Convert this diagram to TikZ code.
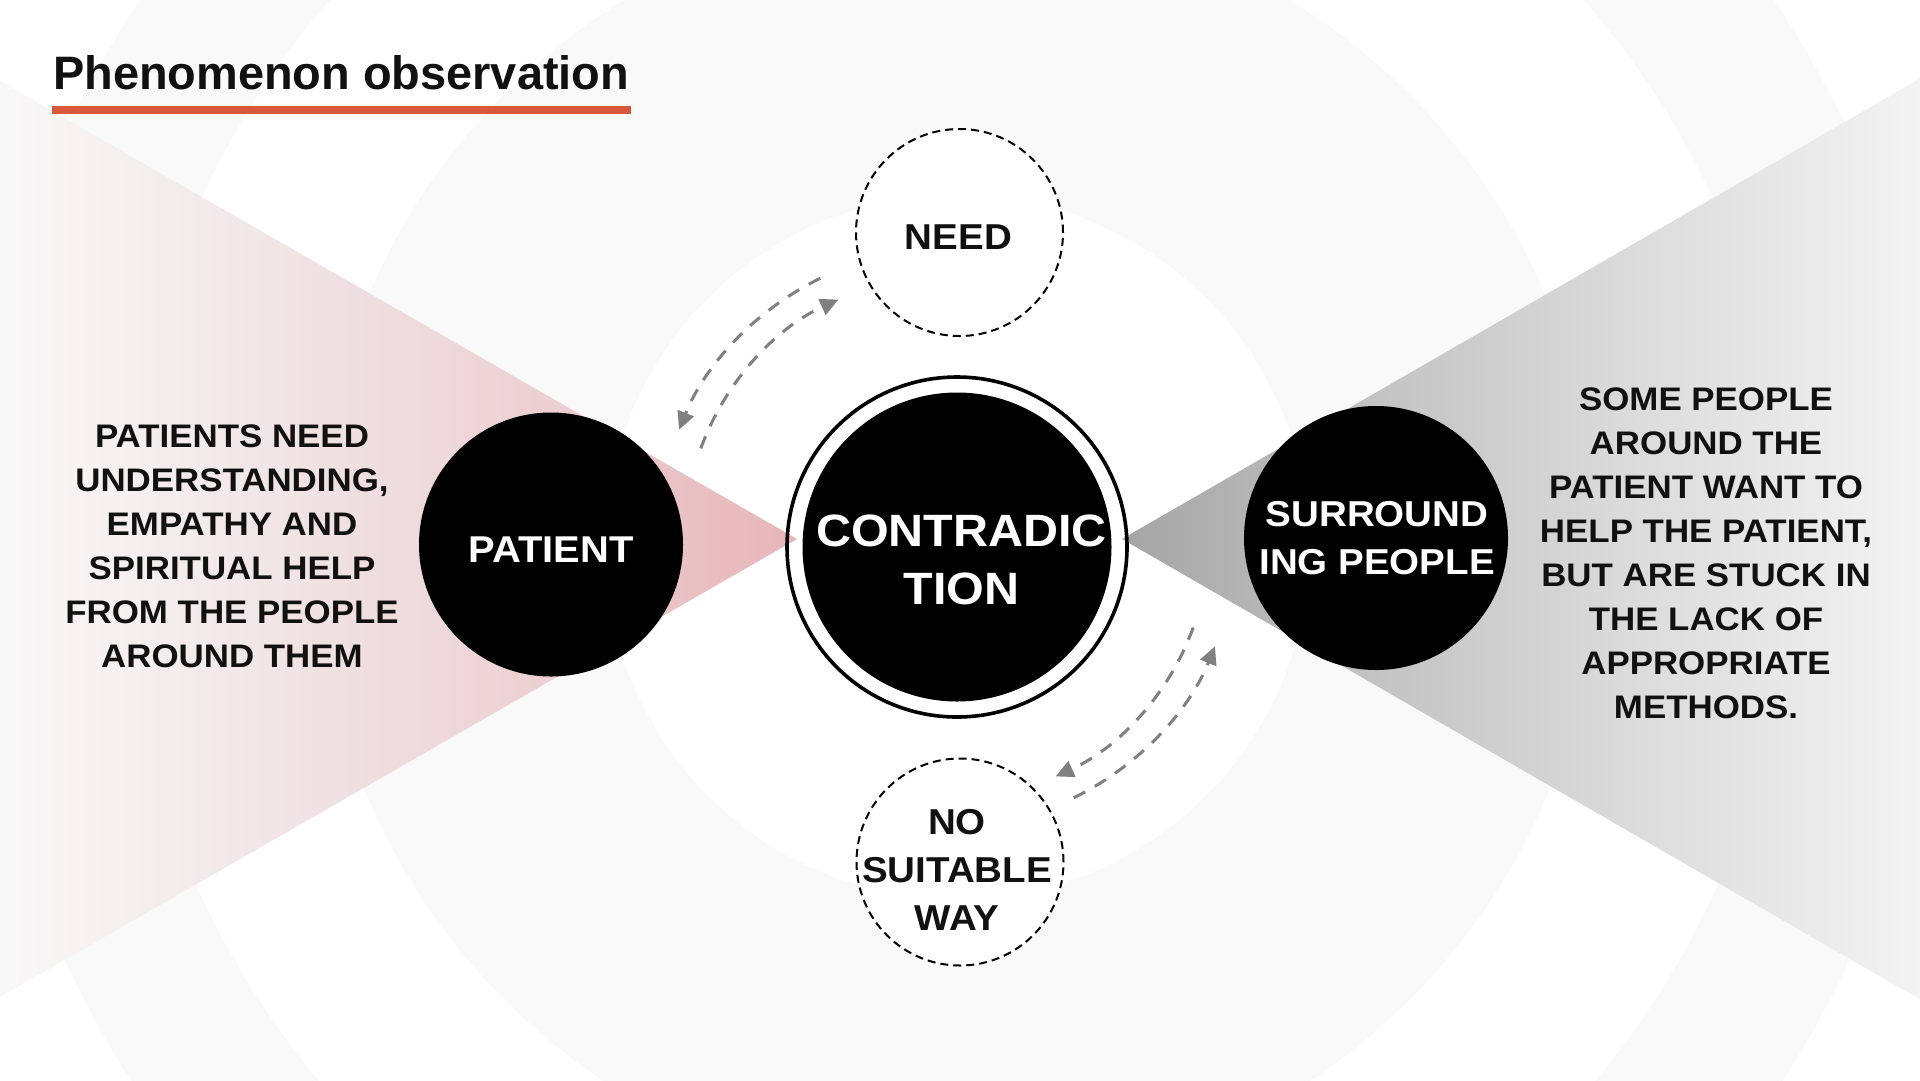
\documentclass[tikz,border=0pt]{standalone}
\usepackage{fontspec}
\setmainfont{Liberation Sans}
\newfontfamily\wideb[FakeStretch=1.07]{Liberation Sans}
\usetikzlibrary{arrows.meta}
\definecolor{ringgray}{HTML}{F9F9F9}
\definecolor{accent}{HTML}{D9573B}
\definecolor{textblack}{HTML}{111111}
\definecolor{arrowgray}{HTML}{808080}
\definecolor{pw0}{HTML}{F9F8F8}
\definecolor{pw1}{HTML}{F1E5E6}
\definecolor{pw2}{HTML}{ECCFD1}
\definecolor{pw3}{HTML}{E7B5B8}
\definecolor{gw0}{HTML}{A5A5A5}
\definecolor{gw1}{HTML}{C2C2C2}
\definecolor{gw2}{HTML}{DCDCDC}
\definecolor{gw3}{HTML}{F3F3F3}
\pgfdeclarehorizontalshading{pinkwedge}{100bp}{color(0bp)=(pw0); color(25bp)=(pw0); color(42.5bp)=(pw1); color(60bp)=(pw2); color(75bp)=(pw3); color(100bp)=(pw3)}
\pgfdeclarehorizontalshading{greywedge}{100bp}{color(0bp)=(gw0); color(25bp)=(gw0); color(40bp)=(gw1); color(57.5bp)=(gw2); color(75bp)=(gw3); color(100bp)=(gw3)}
\tikzset{
  blackdisc/.style={circle, fill=black, inner sep=0pt, outer sep=0pt, minimum size=#1},
  dashdisc/.style={circle, draw=black, fill=white, line width=2pt, dash pattern=on 8pt off 5pt, inner sep=0pt, minimum size=207pt},
  ringline/.style={circle, draw=black, line width=3.6pt, inner sep=0pt, minimum size=340pt},
  whitelabel/.style={text=white, align=center, inner sep=0pt, font=\wideb\bfseries\fontsize{36}{48}\selectfont},
  darklabel/.style={text=textblack, align=center, inner sep=0pt, font=\wideb\bfseries\fontsize{36}{48}\selectfont},
  sidetext/.style={text=textblack, align=center, inner sep=0pt, font=\wideb\bfseries\fontsize{32.6}{44}\selectfont},
  cyclearrow/.style={draw=arrowgray, line width=3pt, dash pattern=on 13pt off 11pt, -{Triangle[length=18pt,width=17pt,fill=arrowgray]}},
}
\begin{document}
\begin{tikzpicture}[x=1pt,y=-1pt]
\useasboundingbox (0,0) rectangle (1920,1080);
\fill[white] (0,0) rectangle (1920,1080);
\coordinate (C) at (957,547);
\coordinate (P) at (947,538);
% background rings
\begin{scope}
\clip (0,0) rectangle (1920,1080);
\fill[ringgray] (C) circle[radius=983];
\fill[white] (C) circle[radius=832];
\fill[ringgray] (C) circle[radius=640];
\fill[white] (C) circle[radius=352];
\end{scope}
% wedges
\shade[shading=pinkwedge] (797,539) -- (0,81) -- (0,997) -- cycle;
\shade[shading=greywedge] (1122,539) -- (1920,78.6) -- (1920,999.4) -- cycle;
% title
\node[anchor=base west, inner sep=0pt, text=textblack, font=\bfseries\fontsize{46.9}{50}\selectfont] (title) at (53,89.5) {Phenomenon observation};
\fill[accent] (52,106) rectangle (631,114);
% circles
\node[blackdisc=264pt] (patient) at (551,544.5) {};
\node[blackdisc=264pt] (surr) at (1376,538) {};
\node[ringline] (ring) at (C) {};
\node[blackdisc=309pt] (contra) at (C) {};
\node[dashdisc] (need) at (959.5,232.5) {};
\node[dashdisc] (noway) at (960,862) {};
% cycle arrows
\draw[cyclearrow] ([shift={(-116:289)}]P) arc[start angle=-116, end angle=-158, radius=289];
\draw[cyclearrow] ([shift={(-160:262)}]P) arc[start angle=-160, end angle=-114.5, radius=262];
\draw[cyclearrow] ([shift={(64:289)}]P) arc[start angle=64, end angle=22, radius=289];
\draw[cyclearrow] ([shift={(20:262)}]P) arc[start angle=20, end angle=65.5, radius=262];
% labels
\node[whitelabel, font=\wideb\bfseries\fontsize{45.3}{58}\selectfont] (contraT) at (961.5,559.5) {CONTRADIC\\TION};
\node[whitelabel, font=\wideb\bfseries\fontsize{37.3}{48}\selectfont] (patientT) at (551,549.5) {PATIENT};
\node[whitelabel] (surrT) at (1377,538.5) {SURROUND\\ING PEOPLE};
\node[darklabel] (needT) at (958.5,237.5) {NEED};
\node[darklabel] (nowayT) at (957,869.5) {NO\\SUITABLE\\WAY};
\node[sidetext] (leftT) at (232,546) {PATIENTS NEED\\UNDERSTANDING,\\EMPATHY AND\\SPIRITUAL HELP\\FROM THE PEOPLE\\AROUND THEM};
\node[sidetext] (rightT) at (1706,553) {SOME PEOPLE\\AROUND THE\\PATIENT WANT TO\\HELP THE PATIENT,\\BUT ARE STUCK IN\\THE LACK OF\\APPROPRIATE\\METHODS.};
\end{tikzpicture}
\end{document}
